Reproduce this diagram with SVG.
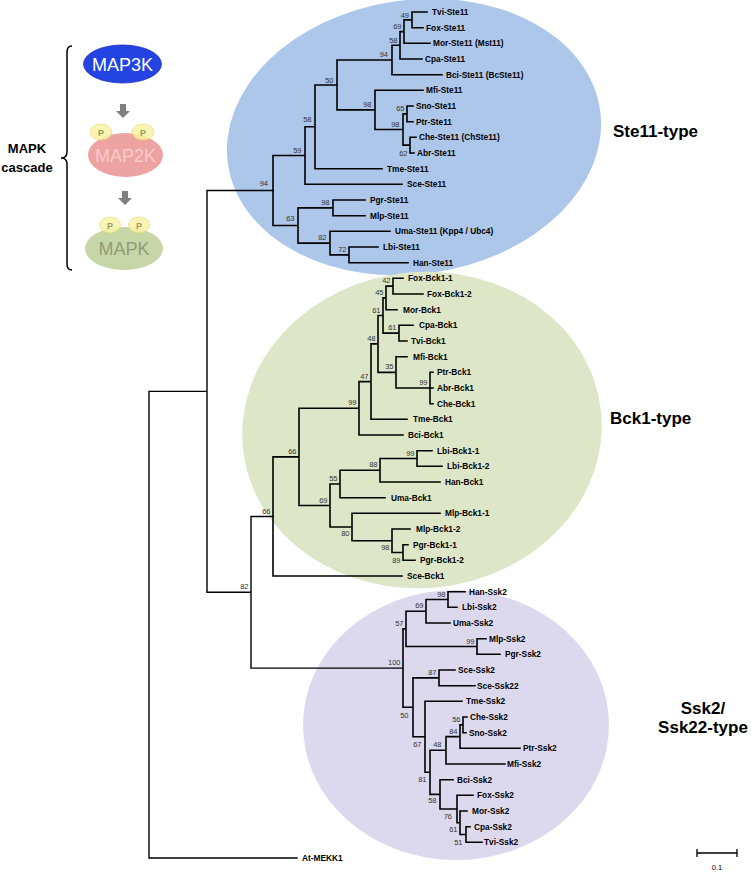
<svg xmlns="http://www.w3.org/2000/svg" width="751" height="885" viewBox="0 0 751 885">
<style>
text{font-family:"Liberation Sans",Arial,sans-serif}
.lf{font-size:8.3px;font-weight:bold;fill:#000}
.bs{font-size:7.5px;fill:#333;text-anchor:end}
.ty{font-size:17px;font-weight:bold;fill:#000}
.br{fill:none;stroke:#000;stroke-width:1.6;stroke-linecap:square}
.bb{fill:none;stroke:#000;stroke-width:1.4;stroke-linecap:square}
.pc{fill:#f8f3a6;stroke:#e4da74;stroke-width:0.8;opacity:0.85}
.pt{font-size:9px;font-weight:bold;fill:#9c9a5c;text-anchor:middle}
.ar{fill:#808080}
.mk{font-size:18px;text-anchor:middle}
</style>
<rect width="751" height="885" fill="#fff"/>
<g id="clades">
<g id="clade-ste11"><ellipse cx="414" cy="137" rx="188" ry="137" transform="rotate(-8.4 414 137)" fill="#adc7ea"/><text class="ty" x="613" y="137">Ste11-type</text></g>
<g id="clade-bck1"><ellipse cx="422" cy="430" rx="180" ry="158" transform="rotate(-6 422 430)" fill="#dde6c7"/><text class="ty" x="610" y="424">Bck1-type</text></g>
<g id="clade-ssk2"><ellipse cx="456" cy="725" rx="153" ry="135" fill="#dcd9ee"/><text class="ty" x="703" y="714" text-anchor="middle">Ssk2/</text><text class="ty" x="703" y="733" text-anchor="middle">Ssk22-type</text></g>
</g>
<g id="cascade">
<path d="M72 46Q67 46 67 52V152Q67 158 61 158Q67 158 67 164V264Q67 270 72 270" fill="none" stroke="#000" stroke-width="1.5"/>
<text x="27" y="153" font-size="13" font-weight="bold" text-anchor="middle">MAPK</text>
<text x="27" y="172" font-size="13" font-weight="bold" text-anchor="middle">cascade</text>
<g id="map3k"><ellipse cx="122.5" cy="64" rx="39" ry="19" fill="#2343e2" stroke="#1b35b8" stroke-width="0.8"/><text class="mk" x="122.5" y="70.5" fill="#fff">MAP3K</text></g>
<path class="ar" d="M120 104H126V111H130L123 118L116 111H120Z"/>
<g id="map2k"><ellipse cx="125.5" cy="155" rx="37.5" ry="22" fill="#eea3a3"/><text class="mk" x="125.5" y="161.5" fill="#f6caca">MAP2K</text>
<ellipse class="pc" cx="101" cy="132" rx="11" ry="8"/><text class="pt" x="101" y="135.5">P</text>
<ellipse class="pc" cx="143" cy="132" rx="11" ry="8"/><text class="pt" x="143" y="135.5">P</text></g>
<path class="ar" d="M122 191H128V198H132L125 205L118 198H122Z"/>
<g id="mapk"><ellipse cx="124" cy="248.5" rx="39" ry="21.5" fill="#c6d6a6"/><text class="mk" x="124" y="255" fill="#8e9e78">MAPK</text>
<ellipse class="pc" cx="110" cy="225" rx="10.5" ry="8"/><text class="pt" x="110" y="228.5">P</text>
<ellipse class="pc" cx="139" cy="225" rx="10.5" ry="8"/><text class="pt" x="139" y="228.5">P</text></g>
</g>
<g id="connectors">
<path class="bb" d="M149 391.4V858M149 391.4H207M207 190.5V592.3M207 592.3H251M251 516.45V668.1M149 858H297M207 190.5H273M251 516.45H273M251 668.1H403"/>
<path class="br" d="M412 12V27.7M404 19.85V43.3M400 31.6V59M392 45.3V74.7M407 106V121.7M410 137.3V153M403 113.85V145.15M375 90.3V129.5M337 60V109.9M315 84.95V168.7M305 126.8V184.3M333 200V215.7M349 247V262.7M330 231.3V254.85M298 207.85V243.1M273 155.55V225.5
M412 12H427M412 27.7H423M404 19.85H412M404 43.3H430M400 31.6H404M400 59H422M392 45.3H400M392 74.7H442M337 60H392M375 90.3H423M375 129.5H403M403 113.85H407M403 145.15H410M407 106H413M407 121.7H413M410 137.3H416M410 153H414M337 109.9H375M315 84.95H337M315 168.7H382M305 126.8H315M305 184.3H402M273 155.55H305M333 200H365M333 215.7H365M298 207.85H333M330 231.3H390M330 254.85H349M349 247H378M349 262.7H408M298 243.1H330M273 225.5H298"/>
<path class="br" d="M393 278.3V294M386 286.15V309.7M399 325.3V341M383 297.9V333.15M430 372.3V403.7M396 356.7V388M378 315.5V372.35M371 343.9V419.3M359 381.6V435M417 450.7V466.3M380 458.5V482M340 470.25V497.7M403 544.7V560.3M392 529V552.5M352 513.3V540.75M330 484V527M299 408.3V505.5M273 456.9V576
M393 278.3H403M393 294H423M386 286.15H393M386 309.7H397M383 297.9H386M399 325.3H413M399 341H407M383 333.15H399M378 315.5H383M396 356.7H407M430 372.3H433M430 388H433M430 403.7H433M396 388H430M378 372.35H396M371 343.9H378M371 419.3H407M359 381.6H371M359 435H403M299 408.3H359M417 450.7H432M417 466.3H442M380 458.5H417M380 482H440M340 470.25H380M340 497.7H385M330 484H340M352 513.3H440M392 529H410M403 544.7H408M403 560.3H415M392 552.5H403M352 540.75H392M330 527H352M299 505.5H330M273 456.9H299M273 576H402"/>
<path class="br" d="M448 591.7V607.3M426 599.5V623M477 638.7V654.3M406 611.25V646.5M439 670V685.7M463 717V732.7M460 724.85V748.3M446 736.6V764M466 826.7V842.3M460 811V834.5M457 795.3V822.75M440 779.7V809M430 750.3V794.35M425 701.3V772.3M413 677.85V736.8M403 628.9V707.3
M448 591.7H465M448 607.3H457M426 599.5H448M426 623H450M406 611.25H426M477 638.7H486M477 654.3H500M406 646.5H477M403 628.9H406M439 670H455M439 685.7H475M413 677.85H439M425 701.3H462M463 717H467M463 732.7H466M460 724.85H463M460 748.3H520M446 736.6H460M446 764H505M430 750.3H446M440 779.7H453M457 795.3H473M460 811H467M466 826.7H470M466 842.3H482M460 834.5H466M457 822.75H460M440 809H457M430 794.35H440M425 772.3H430M413 736.8H425M403 707.3H413"/>
</g>
<g id="support">
<text class="bs" x="409" y="17.5">49</text><text class="bs" x="401.5" y="29">69</text><text class="bs" x="397.5" y="43">58</text><text class="bs" x="388" y="57">94</text><text class="bs" x="333.5" y="83">50</text><text class="bs" x="371.5" y="107">98</text><text class="bs" x="399.5" y="127">98</text><text class="bs" x="404.5" y="111">65</text><text class="bs" x="407.5" y="156">62</text><text class="bs" x="311.5" y="122">58</text><text class="bs" x="301.5" y="153">59</text><text class="bs" x="268" y="186">94</text><text class="bs" x="294.5" y="221">63</text><text class="bs" x="329.5" y="205">98</text><text class="bs" x="326.5" y="240">82</text><text class="bs" x="346.5" y="252">72</text>
<text class="bs" x="390.5" y="283">42</text><text class="bs" x="383.5" y="295">45</text><text class="bs" x="380.5" y="312.5">61</text><text class="bs" x="396.5" y="330">61</text><text class="bs" x="375.5" y="341">48</text><text class="bs" x="393.5" y="369">35</text><text class="bs" x="427.5" y="385">99</text><text class="bs" x="368.5" y="378.6">47</text><text class="bs" x="356.5" y="405">99</text><text class="bs" x="414.5" y="455.5">99</text><text class="bs" x="377.5" y="467">88</text><text class="bs" x="337.5" y="481">55</text><text class="bs" x="327.5" y="502.5">69</text><text class="bs" x="349.5" y="536">80</text><text class="bs" x="389.5" y="550">98</text><text class="bs" x="400.5" y="563">89</text><text class="bs" x="296.5" y="454">66</text><text class="bs" x="270.5" y="513.5">66</text>
<text class="bs" x="248.5" y="589">82</text><text class="bs" x="445.5" y="596.5">98</text><text class="bs" x="423.5" y="608">69</text><text class="bs" x="403.5" y="626">57</text><text class="bs" x="474.5" y="643.5">99</text><text class="bs" x="400.5" y="665">100</text><text class="bs" x="436.5" y="675">87</text><text class="bs" x="408.5" y="718">50</text><text class="bs" x="460.5" y="722">56</text><text class="bs" x="457.5" y="733.5">84</text><text class="bs" x="441.5" y="747">48</text><text class="bs" x="421.5" y="747">67</text><text class="bs" x="426.5" y="782">81</text><text class="bs" x="436.5" y="803">58</text><text class="bs" x="452" y="819">76</text><text class="bs" x="457.5" y="832">61</text><text class="bs" x="462.5" y="845">51</text>
</g>
<g id="leaves">
<g id="tvi-ste11"><text class="lf" x="432" y="15">Tvi-Ste11</text></g>
<g id="fox-ste11"><text class="lf" x="426" y="30.7">Fox-Ste11</text></g>
<g id="mor-ste11"><text class="lf" x="433" y="46.3">Mor-Ste11 (Mst11)</text></g>
<g id="cpa-ste11"><text class="lf" x="425" y="62">Cpa-Ste11</text></g>
<g id="bci-ste11"><text class="lf" x="446" y="77.7">Bci-Ste11 (BcSte11)</text></g>
<g id="mfi-ste11"><text class="lf" x="426" y="93.3">Mfi-Ste11</text></g>
<g id="sno-ste11"><text class="lf" x="416" y="109">Sno-Ste11</text></g>
<g id="ptr-ste11"><text class="lf" x="416" y="124.7">Ptr-Ste11</text></g>
<g id="che-ste11"><text class="lf" x="419" y="140.3">Che-Ste11 (ChSte11)</text></g>
<g id="abr-ste11"><text class="lf" x="417" y="156">Abr-Ste11</text></g>
<g id="tme-ste11"><text class="lf" x="387" y="171.7">Tme-Ste11</text></g>
<g id="sce-ste11"><text class="lf" x="407" y="187.3">Sce-Ste11</text></g>
<g id="pgr-ste11"><text class="lf" x="370" y="203">Pgr-Ste11</text></g>
<g id="mlp-ste11"><text class="lf" x="370" y="218.7">Mlp-Ste11</text></g>
<g id="uma-ste11"><text class="lf" x="395" y="234.3">Uma-Ste11 (Kpp4 / Ubc4)</text></g>
<g id="lbi-ste11"><text class="lf" x="383" y="250">Lbi-Ste11</text></g>
<g id="han-ste11"><text class="lf" x="413" y="265.7">Han-Ste11</text></g>
<g id="fox-bck1-1"><text class="lf" x="408" y="281.3">Fox-Bck1-1</text></g>
<g id="fox-bck1-2"><text class="lf" x="427" y="297">Fox-Bck1-2</text></g>
<g id="mor-bck1"><text class="lf" x="403" y="312.7">Mor-Bck1</text></g>
<g id="cpa-bck1"><text class="lf" x="419" y="328.3">Cpa-Bck1</text></g>
<g id="tvi-bck1"><text class="lf" x="411" y="344">Tvi-Bck1</text></g>
<g id="mfi-bck1"><text class="lf" x="413" y="359.7">Mfi-Bck1</text></g>
<g id="ptr-bck1"><text class="lf" x="437" y="375.3">Ptr-Bck1</text></g>
<g id="abr-bck1"><text class="lf" x="437" y="391">Abr-Bck1</text></g>
<g id="che-bck1"><text class="lf" x="437" y="406.7">Che-Bck1</text></g>
<g id="tme-bck1"><text class="lf" x="413" y="422.3">Tme-Bck1</text></g>
<g id="bci-bck1"><text class="lf" x="408" y="438">Bci-Bck1</text></g>
<g id="lbi-bck1-1"><text class="lf" x="437" y="453.7">Lbi-Bck1-1</text></g>
<g id="lbi-bck1-2"><text class="lf" x="447" y="469.3">Lbi-Bck1-2</text></g>
<g id="han-bck1"><text class="lf" x="445" y="485">Han-Bck1</text></g>
<g id="uma-bck1"><text class="lf" x="391" y="500.7">Uma-Bck1</text></g>
<g id="mlp-bck1-1"><text class="lf" x="445" y="516.3">Mlp-Bck1-1</text></g>
<g id="mlp-bck1-2"><text class="lf" x="416" y="532">Mlp-Bck1-2</text></g>
<g id="pgr-bck1-1"><text class="lf" x="413" y="547.7">Pgr-Bck1-1</text></g>
<g id="pgr-bck1-2"><text class="lf" x="420" y="563.3">Pgr-Bck1-2</text></g>
<g id="sce-bck1"><text class="lf" x="407" y="579">Sce-Bck1</text></g>
<g id="han-ssk2"><text class="lf" x="469" y="594.7">Han-Ssk2</text></g>
<g id="lbi-ssk2"><text class="lf" x="462" y="610.3">Lbi-Ssk2</text></g>
<g id="uma-ssk2"><text class="lf" x="453" y="626">Uma-Ssk2</text></g>
<g id="mlp-ssk2"><text class="lf" x="489" y="641.7">Mlp-Ssk2</text></g>
<g id="pgr-ssk2"><text class="lf" x="505" y="657.3">Pgr-Ssk2</text></g>
<g id="sce-ssk2"><text class="lf" x="458" y="673">Sce-Ssk2</text></g>
<g id="sce-ssk22"><text class="lf" x="477" y="688.7">Sce-Ssk22</text></g>
<g id="tme-ssk2"><text class="lf" x="466" y="704.3">Tme-Ssk2</text></g>
<g id="che-ssk2"><text class="lf" x="470" y="720">Che-Ssk2</text></g>
<g id="sno-ssk2"><text class="lf" x="469" y="735.7">Sno-Ssk2</text></g>
<g id="ptr-ssk2"><text class="lf" x="523" y="751.3">Ptr-Ssk2</text></g>
<g id="mfi-ssk2"><text class="lf" x="507" y="767">Mfi-Ssk2</text></g>
<g id="bci-ssk2"><text class="lf" x="457" y="782.7">Bci-Ssk2</text></g>
<g id="fox-ssk2"><text class="lf" x="477" y="798.3">Fox-Ssk2</text></g>
<g id="mor-ssk2"><text class="lf" x="472" y="814">Mor-Ssk2</text></g>
<g id="cpa-ssk2"><text class="lf" x="474" y="829.7">Cpa-Ssk2</text></g>
<g id="tvi-ssk2"><text class="lf" x="484" y="845.3">Tvi-Ssk2</text></g>
<g id="at-mekk1"><text class="lf" x="302" y="861">At-MEKK1</text></g>
</g>
<g id="scalebar">
<path d="M697 853H737M697 849V857M737 849V857" fill="none" stroke="#000" stroke-width="1.3"/>
<text x="717" y="870" font-size="7.5" text-anchor="middle">0.1</text>
</g>
</svg>
